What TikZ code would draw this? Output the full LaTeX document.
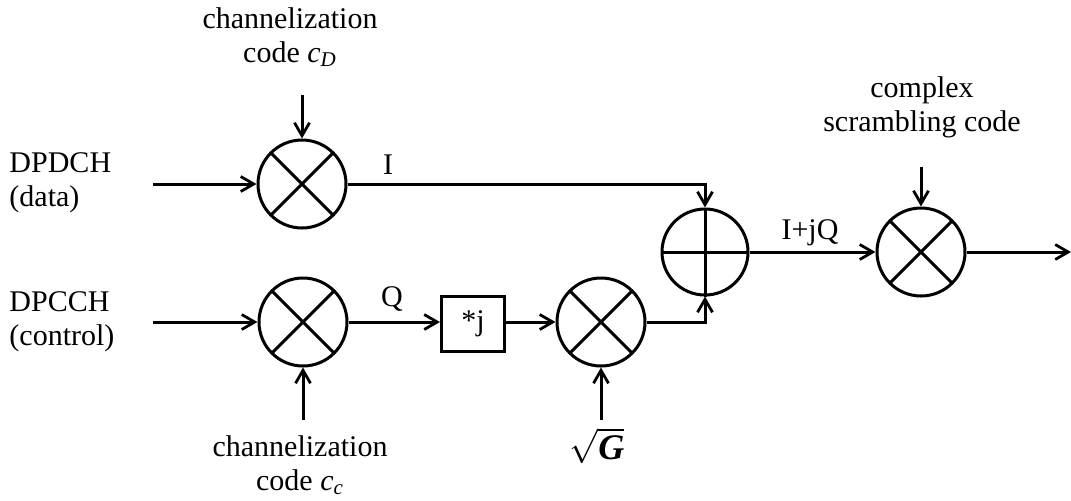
\documentclass[tikz,border=0pt]{standalone}
\usepackage{fontspec}
\setmainfont{Liberation Serif}
\usetikzlibrary{arrows.meta}
\begin{document}
\begin{tikzpicture}[x=0.5pt,y=-0.5pt,
  line width=1.5pt,
  font=\fontsize{15}{17}\selectfont,
  >={Straight Barb[length=6.5pt,width=7.5pt,line width=1.4pt]},
  mult/.style={circle,draw,line width=1.5pt,minimum size=44pt,inner sep=0pt,
    path picture={\draw[line width=1.5pt] (path picture bounding box.north west)--(path picture bounding box.south east)
      (path picture bounding box.north east)--(path picture bounding box.south west);}},
  summer/.style={circle,draw,line width=1.5pt,minimum size=43pt,inner sep=0pt,
    path picture={\draw[line width=1.5pt] (path picture bounding box.west)--(path picture bounding box.east);}},
  blk/.style={draw,line width=1.5pt,minimum width=31.5pt,minimum height=27.5pt,inner sep=0pt},
  lbl/.style={align=center,inner sep=0pt}]
\useasboundingbox (0,0) rectangle (1071,500);
% nodes
\node[mult] (m1) at (302,184) {};
\node[mult] (m2) at (303,322) {};
\node[blk] (bx) at (473,324) {*j};
\node[mult] (m3) at (601,322) {};
\node[summer] (sum) at (705,252) {};
\node[mult] (m4) at (921,252) {};
\coordinate (in1) at (153,184);
\coordinate (in2) at (153,322);
\coordinate (c1) at (302,95);
\coordinate (c2) at (303,420);
\coordinate (c3) at (601,420);
\coordinate (c4) at (921,167);
\coordinate (out) at (1071,252);
% labels
\node[lbl,anchor=west,align=left] (l1) at (8,183) {DPDCH\\(data)};
\node[lbl,anchor=west,align=left] (l2) at (8,322) {DPCCH\\(control)};
\node[lbl] (t1) at (290,37) {channelization\\code \textit{c}\textsubscript{\textit{D}}};
\node[lbl] (t2) at (300,465) {channelization\\code \textit{c}\textsubscript{\textit{c}}};
\node[lbl] (t3) at (597,446) {\fontsize{18}{20}\selectfont$\sqrt{\mbox{\textbf{\textit{G}}}}$};
\node[lbl] (t4) at (922,107) {complex\\scrambling code};
\node[lbl] (lI) at (388,165) {I};
\node[lbl] (lQ) at (392,299) {Q};
\node[lbl] (lIQ) at (810,233) {I+jQ};
% connectors
\draw[->] (in1) -- (m1);
\draw[->] (in2) -- (m2);
\draw[->] (c1) -- (m1);
\draw[->] (c2) -- (m2);
\draw[->] (c3) -- (m3);
\draw[->] (c4) -- (m4);
\draw[->] (m1.east) -- (m1.east -| sum) -- (sum.north);
\draw (sum.north) -- (sum.south);
\draw[->] (m2.east) -- (bx.west |- m2.east);
\draw[->] (bx.east |- m3.west) -- (m3.west);
\draw[->] (m3.east) -| (sum.south);
\draw[->] (sum) -- (m4);
\draw[->] (m4) -- (out);
\end{tikzpicture}
\end{document}
